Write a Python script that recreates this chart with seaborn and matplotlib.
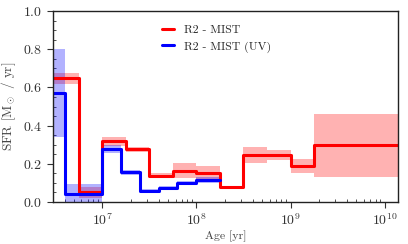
import matplotlib
matplotlib.use("Agg")
import matplotlib.pyplot as plt
from matplotlib.ticker import AutoMinorLocator, LogLocator, NullFormatter
import seaborn as sns
import numpy as np

# bin edges (yr) and SFR values
red_edges = [3e6, 5.6e6, 1e7, 1.78e7, 3.16e7, 5.6e7, 1e8, 1.78e8, 3.16e8, 5.6e8, 1e9, 1.78e9, 1.38e10]
red_sfr = [0.65, 0.05, 0.32, 0.275, 0.135, 0.16, 0.153, 0.078, 0.246, 0.244, 0.188, 0.297]
red_lo = [0.62, 0.02, 0.295, 0.26, 0.125, 0.125, 0.12, 0.07, 0.205, 0.22, 0.15, 0.132]
red_hi = [0.675, 0.08, 0.34, 0.29, 0.15, 0.205, 0.19, 0.086, 0.29, 0.27, 0.223, 0.46]

blue_edges = [3e6, 4e6, 1e7, 1.6e7, 2.5e7, 4e7, 6.3e7, 1e8, 1.78e8]
blue_sfr = [0.57, 0.04, 0.28, 0.155, 0.06, 0.072, 0.1, 0.115]
blue_lo = [0.34, 0.0, 0.255, 0.14, 0.05, 0.062, 0.09, 0.1]
blue_hi = [0.80, 0.095, 0.30, 0.17, 0.07, 0.082, 0.11, 0.13]

labels = ["R2 - MIST", "R2 - MIST (UV)"]
colors = ["#ff0000", "#0000ff"]

sns.set_style("ticks")
plt.rcParams["font.family"] = "serif"
plt.rcParams["font.serif"] = ["cmr10", "DejaVu Serif"]
plt.rcParams["mathtext.fontset"] = "cm"
plt.rcParams["axes.formatter.use_mathtext"] = True

fig = plt.figure(figsize=(4.08, 2.44), dpi=100)
ax = fig.add_axes([0.13, 0.172, 0.845, 0.783])


def step_series(edges, vals):
    return np.array(edges), np.array(list(vals) + [vals[-1]])


for edges, sfr, lo, hi, lab, col in [
    (red_edges, red_sfr, red_lo, red_hi, labels[0], colors[0]),
    (blue_edges, blue_sfr, blue_lo, blue_hi, labels[1], colors[1]),
]:
    x, y = step_series(edges, sfr)
    _, ylo = step_series(edges, lo)
    _, yhi = step_series(edges, hi)
    ax.fill_between(x, ylo, yhi, step="post", color=col, alpha=0.3, lw=0)
    sns.lineplot(x=x, y=y, drawstyle="steps-post", color=col, lw=2.2,
                 label=lab, ax=ax, estimator=None, sort=False)

ax.set_xscale("log")
ax.set_xlim(3e6, 1.38e10)
ax.set_ylim(0, 1.0)
ax.set_yticks([0.0, 0.2, 0.4, 0.6, 0.8, 1.0])
ax.yaxis.set_minor_locator(AutoMinorLocator(4))
ax.xaxis.set_major_locator(LogLocator(base=10, numticks=10))
ax.xaxis.set_minor_locator(LogLocator(base=10, subs=np.arange(2, 10), numticks=20))
ax.xaxis.set_minor_formatter(NullFormatter())

ax.tick_params(which="major", direction="out", length=4, width=0.8, labelsize=10, colors="#333333")
ax.tick_params(which="minor", direction="in", length=2.5, width=0.6, colors="#333333")
for s in ax.spines.values():
    s.set_linewidth(1.0)
    s.set_color("#222222")

ax.set_xlabel("Age [yr]", fontsize=8.5, color="#444444", labelpad=2)
ax.set_ylabel(r"SFR [M$_\odot$ / yr]", fontsize=9.5, color="#444444", labelpad=4)

ax.legend(loc="upper left", bbox_to_anchor=(0.285, 0.985), frameon=False,
          fontsize=8.5, handlelength=1.0, handletextpad=0.9, labelspacing=0.55)

fig.savefig("out.png", dpi=100)
